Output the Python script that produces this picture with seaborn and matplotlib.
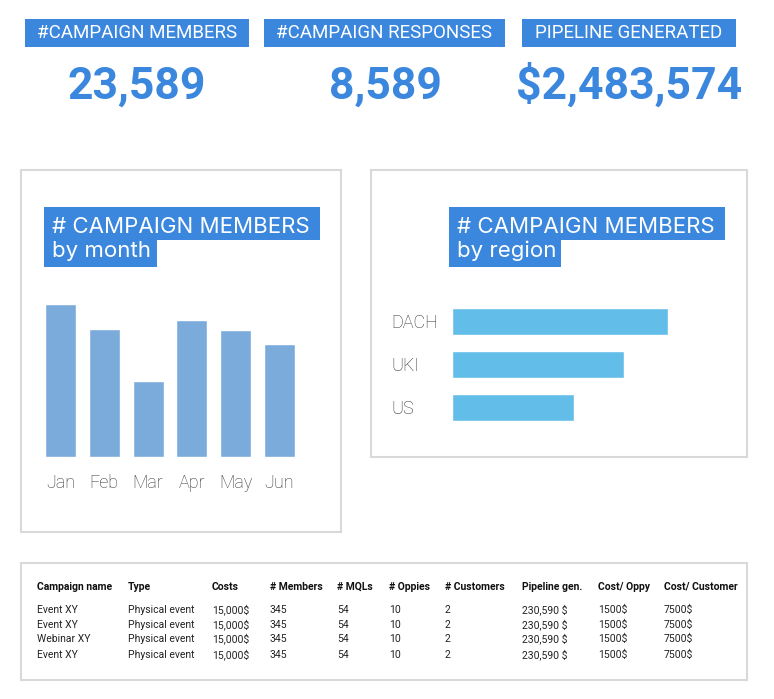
import matplotlib
matplotlib.use("Agg")
import matplotlib.pyplot as plt
from matplotlib.patches import Rectangle
import seaborn as sns

# ----------- DATA ------------
kpi_labels = ['#CAMPAIGN MEMBERS', '#CAMPAIGN RESPONSES', 'PIPELINE GENERATED']
kpi_values = ['23,589', '8,589', '$2,483,574']

months = ['Jan', 'Feb', 'Mar', 'Apr', 'May', 'Jun']
members_by_month = [4590, 3840, 2280, 4110, 3810, 3390]

regions = ['DACH', 'UKI', 'US']
members_by_region = [10800, 8600, 6100]

table_header = ['Campaign name', 'Type', 'Costs', '# Members', '# MQLs', '# Oppies',
                '# Customers', 'Pipeline gen.', 'Cost/ Oppy', 'Cost/ Customer']
table_rows = [
    ['Event XY', 'Physical event', '15,000$', '345', '54', '10', '2', '230,590 $', '1500$', '7500$'],
    ['Event XY', 'Physical event', '15,000$', '345', '54', '10', '2', '230,590 $', '1500$', '7500$'],
    ['Webinar XY', 'Physical event', '15,000$', '345', '54', '10', '2', '230,590 $', '1500$', '7500$'],
    ['Event XY', 'Physical event', '15,000$', '345', '54', '10', '2', '230,590 $', '1500$', '7500$'],
]

# ----------- STYLE ------------
BLUE = '#3a87dd'
W, H = 774, 699

sns.set_theme(style='white')
plt.rcParams['font.family'] = ['Roboto', 'DejaVu Sans']


def rect(x, y, w, h):
    # pixel box (top-left origin) -> figure fraction
    return [x / W, 1 - (y + h) / H, w / W, h / H]


def box(fig, x, y, w, h, face='none', edge='none', lw=0):
    r = rect(x, y, w, h)
    fig.add_artist(Rectangle((r[0], r[1]), r[2], r[3], transform=fig.transFigure,
                             facecolor=face, edgecolor=edge, linewidth=lw))


def txt(fig, x, y, s, **kw):
    fig.text(x / W, 1 - y / H, s, **kw)


fig = plt.figure(figsize=(W / 100, H / 100), dpi=100)

# ----------- KPI ------------
kpi_boxes = [(25, 19, 224), (264, 19, 241), (522, 19, 214)]
kpi_centers = [137, 385, 629]
for (bx, by, bw), lab, val, cx in zip(kpi_boxes, kpi_labels, kpi_values, kpi_centers):
    box(fig, bx, by, bw, 28, face=BLUE)
    txt(fig, bx + bw / 2, by + 14.5, lab, color='white', fontsize=13.5,
        ha='center', va='center')
    txt(fig, cx, 98.5, val, color=BLUE, fontsize=32, fontweight='bold',
        ha='center', va='baseline')

# ----------- PANELS ------------
box(fig, 21, 170, 320, 362, edge='#d9d9d9', lw=1.5)
box(fig, 371, 170, 376, 287, edge='#d9d9d9', lw=1.5)
box(fig, 21, 563, 726, 117, edge='#d9d9d9', lw=1.5)

for x0, sub, w2 in [(44, 'by month', 113), (449, 'by region', 112)]:
    box(fig, x0, 207, 276, 33, face=BLUE)
    box(fig, x0, 239, w2, 28, face=BLUE)
    txt(fig, x0 + 8, 233, '# CAMPAIGN MEMBERS', color='white', fontsize=16,
        ha='left', va='baseline', family=['Inter', 'DejaVu Sans'])
    txt(fig, x0 + 8, 257, sub, color='white', fontsize=16,
        ha='left', va='baseline', family=['Inter', 'DejaVu Sans'])

# ----------- MONTH BARS ------------
ax1 = fig.add_axes(rect(38.6, 304, 262.8, 153))
sns.barplot(x=months, y=members_by_month, color='#7aabdb', saturation=1,
            width=0.71, ax=ax1)
ax1.set_xlim(-0.5, 5.5)
ax1.set_ylim(0, max(members_by_month))
ax1.set_yticks([])
ax1.tick_params(axis='x', length=0, pad=12, labelsize=13, labelcolor='#333333')
for t in ax1.get_xticklabels():
    t.set_fontfamily(['Roboto', 'DejaVu Sans'])
    t.set_fontweight('light')
sns.despine(ax=ax1, left=True, bottom=True)
ax1.patch.set_alpha(0)

# ----------- REGION BARS ------------
ax2 = fig.add_axes(rect(452, 300, 216, 128.5))
sns.barplot(x=members_by_region, y=regions, orient='h', color='#63bde9',
            saturation=1, width=0.63, ax=ax2)
ax2.set_xlim(0, max(members_by_region))
ax2.set_ylim(2.5, -0.5)
ax2.set_xticks([])
ax2.tick_params(axis='y', length=0, pad=44, labelsize=13, labelcolor='#333333')
for t in ax2.get_yticklabels():
    t.set_horizontalalignment('left')
    t.set_fontfamily(['Roboto', 'DejaVu Sans'])
    t.set_fontweight('light')
sns.despine(ax=ax2, left=True, bottom=True)
ax2.set_xlabel('')
ax2.set_ylabel('')
ax2.patch.set_alpha(0)

# ----------- TABLE ------------
col_x = [37, 128, 212, 270, 337, 389, 445, 522, 598, 664]
for cx, h in zip(col_x, table_header):
    txt(fig, cx, 587, h, fontsize=7.5, fontweight='bold', color='#111111',
        ha='left', va='center')
row_y = [610, 625, 639, 655]
for ry, row in zip(row_y, table_rows):
    for cx, v in zip(col_x, row):
        txt(fig, cx, ry, v, fontsize=7.5, color='#222222', ha='left', va='center')

fig.savefig('out.png', dpi=100)
